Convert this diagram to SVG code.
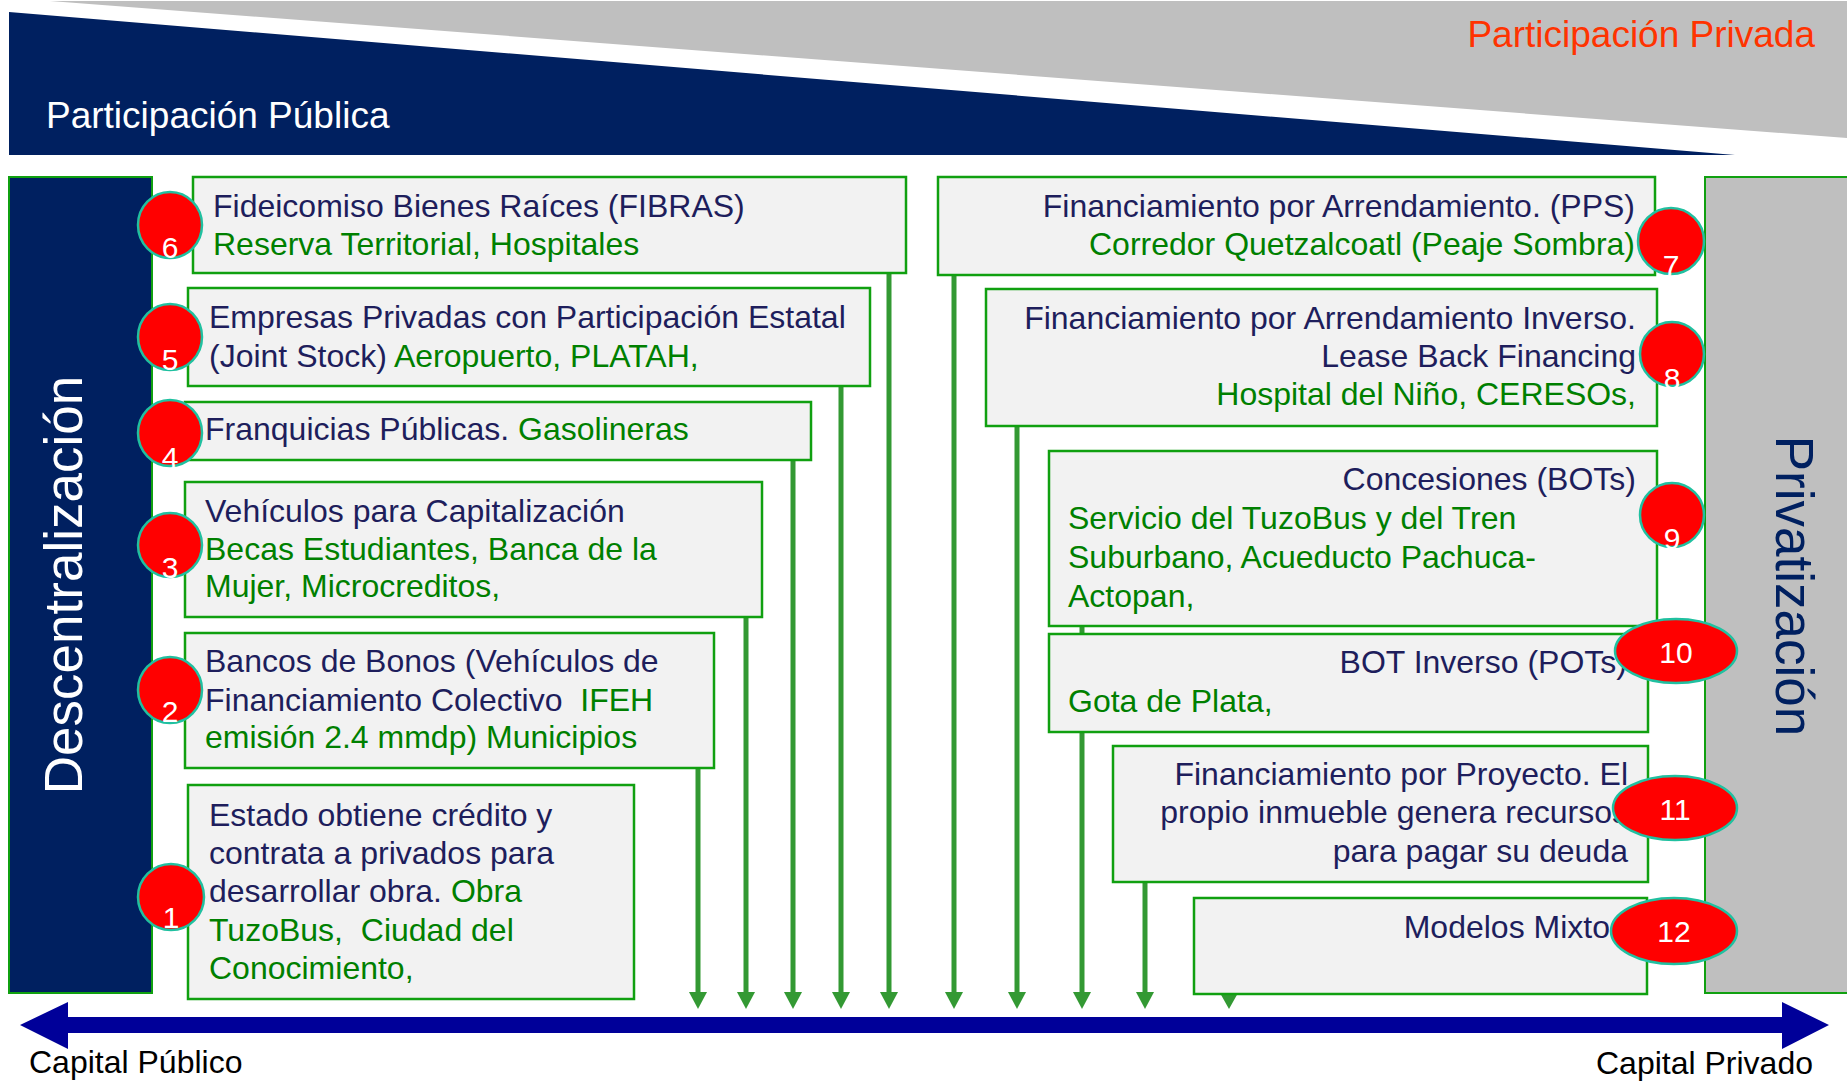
<svg xmlns="http://www.w3.org/2000/svg" width="1847" height="1083" viewBox="0 0 1847 1083">
<style>
text{font-family:"Liberation Sans",Arial,sans-serif;}
.box{fill:#F2F2F2;stroke:#10A010;stroke-width:2.5;}
.t{font-size:32px;fill:#1E1E5C;}
.g{fill:#008000;}
.r{text-anchor:end;}
.dot{fill:#FF0000;stroke:#20C0A0;stroke-width:2.5;}
.num{font-size:30px;fill:#FFFFFF;text-anchor:middle;}
.con{stroke:#339933;stroke-width:5;fill:none;marker-end:url(#ah);}
</style>
<defs>
<marker id="ah" markerUnits="userSpaceOnUse" markerWidth="18" markerHeight="18" refX="0" refY="9" orient="auto" viewBox="0 0 18 18">
<path d="M0,0 L17,9 L0,18 z" fill="#339933"/>
</marker>
</defs>
<rect width="1847" height="1083" fill="#FFFFFF"/>
<g id="banner">
<polygon points="50,1 1847,1 1847,138" fill="#BFBFBF"/>
<polygon points="9,12 1735,155 9,155" fill="#002060"/>
<text x="46" y="128" font-size="37" fill="#FFFFFF">Participación Pública</text>
<text x="1815" y="47" font-size="37" fill="#FF3300" text-anchor="end">Participación Privada</text>
</g>
<g id="descentralizacion">
<rect x="9" y="177" width="143" height="816" fill="#002060" stroke="#10A010" stroke-width="2"/>
<text transform="translate(82,585) rotate(-90)" font-size="53" fill="#FFFFFF" text-anchor="middle">Descentralización</text>
</g>
<g id="privatizacion">
<rect x="1705" y="177" width="150" height="816" fill="#BFBFBF" stroke="#10A010" stroke-width="2"/>
<text transform="translate(1776,586) rotate(90)" font-size="53" fill="#002060" text-anchor="middle">Privatización</text>
</g>
<g id="connectors">
<line class="con" x1="889" y1="273" x2="889" y2="992"/>
<line class="con" x1="841" y1="386" x2="841" y2="992"/>
<line class="con" x1="793" y1="460" x2="793" y2="992"/>
<line class="con" x1="746" y1="617" x2="746" y2="992"/>
<line class="con" x1="698" y1="768" x2="698" y2="992"/>
<line class="con" x1="954" y1="275" x2="954" y2="992"/>
<line class="con" x1="1017" y1="426" x2="1017" y2="992"/>
<line class="con" x1="1082" y1="626" x2="1082" y2="992"/>
<line class="con" x1="1145" y1="882" x2="1145" y2="992"/>
<polygon points="1220,993 1238,993 1229,1009" fill="#339933"/>
<polygon points="20,1025 68,1002 68,1017 1782,1017 1782,1002 1829,1025 1782,1049 1782,1033 68,1033 68,1049" fill="#000099"/>
</g>
<g id="capital">
<text x="29" y="1073" font-size="32" fill="#000000">Capital Público</text>
<text x="1813" y="1074" font-size="32" fill="#000000" text-anchor="end">Capital Privado</text>
</g>
<g id="n6">
<rect class="box" x="193" y="177" width="713" height="96"/>
<text class="t" x="213" y="217">Fideicomiso Bienes Raíces (FIBRAS)</text>
<text class="t g" x="213" y="255">Reserva Territorial, Hospitales</text>
<ellipse class="dot" cx="170" cy="225" rx="32" ry="33"/>
<text class="num" x="170" y="258">6</text>
</g>
<g id="n5">
<rect class="box" x="188" y="288" width="682" height="98"/>
<text class="t" x="209" y="328">Empresas Privadas con Participación Estatal</text>
<text class="t" x="209" y="367">(Joint Stock) <tspan class="g">Aeropuerto, PLATAH,</tspan></text>
<ellipse class="dot" cx="170" cy="337" rx="32" ry="33"/>
<text class="num" x="170" y="370">5</text>
</g>
<g id="n4">
<rect class="box" x="185" y="402" width="626" height="58"/>
<text class="t" x="205" y="440">Franquicias Públicas. <tspan class="g">Gasolineras</tspan></text>
<ellipse class="dot" cx="170" cy="433" rx="32" ry="33"/>
<text class="num" x="170" y="468">4</text>
</g>
<g id="n3">
<rect class="box" x="185" y="482" width="577" height="135"/>
<text class="t" x="205" y="522">Vehículos para Capitalización</text>
<text class="t g" x="205" y="560">Becas Estudiantes, Banca de la</text>
<text class="t g" x="205" y="597">Mujer, Microcreditos,</text>
<ellipse class="dot" cx="170" cy="545" rx="32" ry="32"/>
<text class="num" x="170" y="578">3</text>
</g>
<g id="n2">
<rect class="box" x="185" y="633" width="529" height="135"/>
<text class="t" x="205" y="672">Bancos de Bonos (Vehículos de</text>
<text class="t" x="205" y="711" xml:space="preserve">Financiamiento Colectivo  <tspan class="g">IFEH</tspan></text>
<text class="t g" x="205" y="748">emisión 2.4 mmdp) Municipios</text>
<ellipse class="dot" cx="170" cy="690" rx="32" ry="33"/>
<text class="num" x="170" y="722">2</text>
</g>
<g id="n1">
<rect class="box" x="188" y="785" width="446" height="214"/>
<text class="t" x="209" y="826">Estado obtiene crédito y</text>
<text class="t" x="209" y="864">contrata a privados para</text>
<text class="t" x="209" y="902">desarrollar obra. <tspan class="g">Obra</tspan></text>
<text class="t g" x="209" y="941" xml:space="preserve">TuzoBus,  Ciudad del</text>
<text class="t g" x="209" y="979">Conocimiento,</text>
<ellipse class="dot" cx="171" cy="897" rx="33" ry="33"/>
<text class="num" x="171" y="928">1</text>
</g>
<g id="n7">
<rect class="box" x="938" y="177" width="717" height="98"/>
<text class="t r" x="1635" y="217">Financiamiento por Arrendamiento. (PPS)</text>
<text class="t g r" x="1635" y="255">Corredor Quetzalcoatl (Peaje Sombra)</text>
<ellipse class="dot" cx="1671" cy="241" rx="33" ry="33"/>
<text class="num" x="1671" y="276">7</text>
</g>
<g id="n8">
<rect class="box" x="986" y="289" width="671" height="137"/>
<text class="t r" x="1636" y="329">Financiamiento por Arrendamiento Inverso.</text>
<text class="t r" x="1636" y="367">Lease Back Financing</text>
<text class="t g r" x="1636" y="405">Hospital del Niño, CERESOs,</text>
<ellipse class="dot" cx="1672" cy="354" rx="32" ry="32"/>
<text class="num" x="1672" y="389">8</text>
</g>
<g id="n9">
<rect class="box" x="1049" y="451" width="608" height="175"/>
<text class="t r" x="1636" y="490">Concesiones (BOTs)</text>
<text class="t g" x="1068" y="529">Servicio del TuzoBus y del Tren</text>
<text class="t g" x="1068" y="568">Suburbano, Acueducto Pachuca-</text>
<text class="t g" x="1068" y="607">Actopan,</text>
<ellipse class="dot" cx="1672" cy="515" rx="32" ry="32"/>
<text class="num" x="1672" y="549">9</text>
</g>
<g id="n10">
<rect class="box" x="1049" y="634" width="599" height="98"/>
<text class="t r" x="1627" y="673">BOT Inverso (POTs)</text>
<text class="t g" x="1068" y="712">Gota de Plata,</text>
<ellipse class="dot" cx="1676" cy="651" rx="61" ry="32"/>
<text class="num" x="1676" y="663">10</text>
</g>
<g id="n11">
<rect class="box" x="1113" y="746" width="535" height="136"/>
<text class="t r" x="1628" y="785">Financiamiento por Proyecto. El</text>
<text class="t r" x="1628" y="823">propio inmueble genera recursos</text>
<text class="t r" x="1628" y="862">para pagar su deuda</text>
<ellipse class="dot" cx="1675" cy="808" rx="62" ry="32"/>
<text class="num" x="1675" y="820">11</text>
</g>
<g id="n12">
<rect class="box" x="1194" y="898" width="453" height="96"/>
<text class="t r" x="1610" y="938">Modelos Mixto</text>
<ellipse class="dot" cx="1674" cy="931" rx="63" ry="33"/>
<text class="num" x="1674" y="942">12</text>
</g>
</svg>
